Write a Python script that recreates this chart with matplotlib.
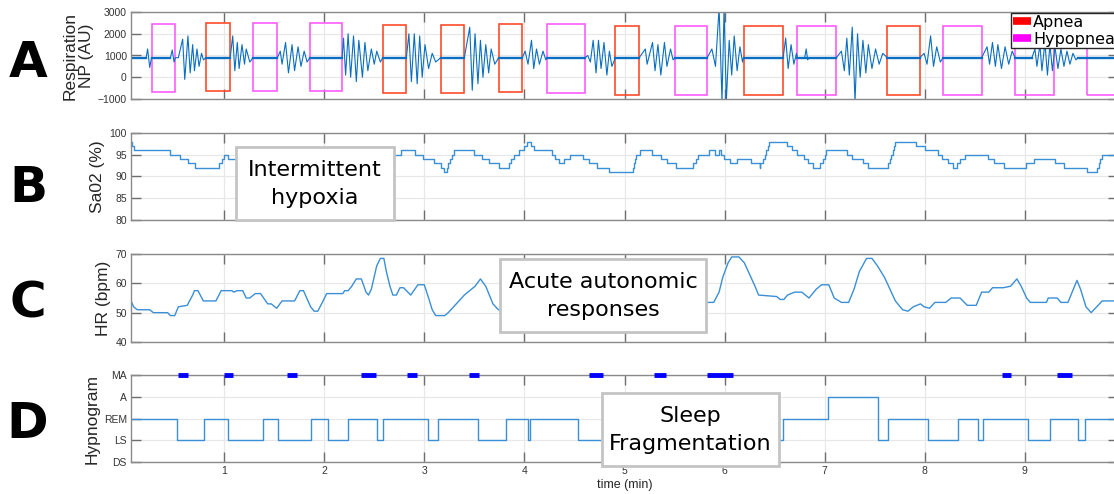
import matplotlib
matplotlib.use('Agg')
import matplotlib.pyplot as plt
from matplotlib.patches import Rectangle
from matplotlib.lines import Line2D

plt.rcParams['font.family'] = ['Liberation Sans', 'DejaVu Sans']

# ---- A: respiration (turning points), time in min
RESP = [(0.07, 900), (0.221, 900), (0.236, 1300), (0.257, 450), (0.275, 900),
        (0.464, 900), (0.482, 1250), (0.5, 700), (0.514, 900),
        (0.543, 900), (0.586, 1750), (0.607, -100), (0.639, 1900), (0.661, 200),
        (0.686, 1500), (0.704, 300), (0.729, 1300), (0.75, 500), (0.775, 1100),
        (0.793, 800), (0.821, 900),
        (1.061, 900), (1.086, 1900), (1.107, 300), (1.132, 1600), (1.15, 400),
        (1.179, 1500), (1.204, 600), (1.221, 1300), (1.257, 700), (1.289, 900),
        (1.532, 900), (1.561, 1200), (1.579, 600), (1.614, 1600), (1.643, 200),
        (1.679, 1500), (1.704, 300), (1.739, 1400), (1.768, 500), (1.8, 1200),
        (1.829, 700), (1.857, 900),
        (2.179, 900), (2.193, 1800), (2.214, 100), (2.239, 2000), (2.264, 0),
        (2.293, 1900), (2.321, -200), (2.346, 1700), (2.382, 0), (2.407, 1600),
        (2.436, 300), (2.471, 1300), (2.5, 600), (2.525, 1200), (2.561, 700),
        (2.586, 900),
        (2.821, 900), (2.846, 2000), (2.871, -200), (2.9, 2000), (2.929, -300),
        (2.954, 1900), (2.979, 0), (3.007, 1500), (3.043, 400), (3.079, 1100),
        (3.114, 700), (3.164, 900),
        (3.4, 900), (3.454, 2300), (3.479, -600), (3.507, 2000), (3.536, -300),
        (3.561, 1700), (3.586, 0), (3.614, 1500), (3.643, 200), (3.668, 1300),
        (3.704, 600), (3.743, 900),
        (3.979, 900), (4.007, 1200), (4.036, 600), (4.071, 1700), (4.093, 400),
        (4.121, 1300), (4.15, 600), (4.186, 1200), (4.214, 800), (4.229, 900),
        (4.605, 900), (4.633, 1000), (4.659, 700), (4.687, 1700), (4.716, 200),
        (4.74, 1700), (4.766, 400), (4.795, 1600), (4.824, 100), (4.849, 1200),
        (4.874, 500), (4.91, 900),
        (5.147, 900), (5.208, 1300), (5.226, 600), (5.28, 1600), (5.305, 300),
        (5.334, 1500), (5.363, 100), (5.399, 1600), (5.424, 500), (5.46, 1300),
        (5.485, 800), (5.507, 900),
        (5.826, 900), (5.873, 1300), (5.909, 500), (5.945, 3200), (5.974, -1100),
        (5.995, 3200), (6.017, -1100), (6.046, 1700), (6.071, 100), (6.096, 1900),
        (6.125, 300), (6.153, 1400), (6.179, 700), (6.189, 900),
        (6.585, 900), (6.61, 1800), (6.635, 400), (6.664, 1500), (6.692, 600),
        (6.718, 1100), (6.728, 900), (6.8, 900), (6.815, 1300), (6.83, 800),
        (6.843, 900),
        (7.116, 900), (7.167, 1200), (7.196, 300), (7.221, 1800), (7.246, 100),
        (7.275, 2300), (7.303, -1100), (7.328, 2000), (7.354, 0), (7.382, 1700),
        (7.411, 200), (7.436, 1500), (7.472, 400), (7.508, 1300), (7.544, 600),
        (7.58, 1100), (7.627, 900),
        (7.95, 900), (7.993, 1100), (8.022, 600), (8.058, 1900), (8.087, 500),
        (8.119, 1400), (8.155, 700), (8.184, 900),
        (8.568, 900), (8.622, 1400), (8.647, 600), (8.676, 1600), (8.705, 500),
        (8.73, 1500), (8.766, 400), (8.802, 1400), (8.838, 600), (8.873, 1200),
        (8.902, 900),
        (9.07, 900), (9.1, 1300), (9.12, 500), (9.15, 1500), (9.17, 300),
        (9.2, 1600), (9.225, 100), (9.25, 1500), (9.275, 300), (9.3, 1400),
        (9.33, 400), (9.36, 1300), (9.39, 500), (9.42, 1200), (9.45, 600),
        (9.48, 1100), (9.51, 800), (9.53, 900), (9.93, 900)]

# flat (noisy) baseline stretches
BASE_LEVEL = 900
BASE_SEGS = [(0.07, 0.221), (0.275, 0.464), (0.821, 1.061), (1.289, 1.532),
             (1.857, 2.179), (2.586, 2.821), (3.164, 3.4), (3.743, 3.979),
             (4.229, 4.605), (4.91, 5.147), (5.507, 5.826), (6.189, 6.585),
             (6.728, 7.116), (7.627, 7.95), (8.184, 8.568), (8.902, 9.07),
             (9.53, 9.93)]

APNEA = [(0.821, 1.061, -630, 2480), (2.586, 2.821, -720, 2420),
         (3.164, 3.4, -720, 2420), (3.743, 3.979, -690, 2430),
         (4.91, 5.147, -800, 2340), (6.189, 6.585, -800, 2340),
         (7.627, 7.95, -800, 2340)]
HYPOPNEA = [(0.275, 0.514, -660, 2450), (1.289, 1.532, -620, 2510),
            (1.857, 2.179, -620, 2510), (4.229, 4.605, -710, 2450),
            (5.507, 5.826, -800, 2340), (6.728, 7.116, -800, 2340),
            (8.184, 8.568, -800, 2340), (8.902, 9.287, -800, 2340),
            (9.617, 10.0, -800, 2340)]

# ---- B: SpO2 steps (start time, %)
SPO2_T = [0.07, 0.08, 0.096, 0.464, 0.561, 0.639, 0.714, 0.946, 0.979, 1.0, 1.036,
          2.686, 2.764, 2.907, 2.989, 3.096, 3.168, 3.2, 3.229, 3.24, 3.26, 3.275,
          3.293, 3.5, 3.579, 3.65, 3.746, 3.846, 3.87, 3.9, 3.95, 4.0, 4.03, 4.07,
          4.1, 4.275, 4.31, 4.346, 4.4, 4.454, 4.587, 4.65, 4.73, 4.849, 5.083,
          5.09, 5.1, 5.119, 5.155, 5.273, 5.363, 5.424, 5.514, 5.683, 5.71, 5.73,
          5.848, 5.902, 5.945, 5.967, 5.99, 6.053, 6.125, 6.268, 6.35, 6.355, 6.38,
          6.4, 6.415, 6.43, 6.44, 6.628, 6.67, 6.728, 6.79, 6.836, 6.879, 6.958,
          6.98, 7.0, 7.016, 7.224, 7.275, 7.382, 7.436, 7.634, 7.65, 7.665, 7.68,
          7.69, 7.706, 7.914, 8.004, 8.13, 8.17, 8.227, 8.28, 8.317, 8.35, 8.406,
          8.633, 8.694, 8.791, 9.01, 9.089, 9.297, 9.394, 9.621, 9.725, 9.74,
          9.755, 9.77, 9.93]
SPO2_V = [98, 97, 96, 95, 94, 93, 92, 93, 94, 95, 94,
          95, 96, 95, 94, 93, 92, 91, 92, 93, 94, 95,
          96, 95, 94, 93, 92, 93, 94, 95, 96, 97, 98, 97,
          96, 95, 94, 93, 94, 95, 94, 93, 92, 91, 92,
          93, 94, 95, 96, 95, 94, 93, 92, 93, 94, 95,
          96, 95, 96, 95, 94, 93, 94, 93, 92, 93, 94,
          95, 96, 97, 98, 97, 96, 95, 94, 93, 92, 93,
          94, 95, 96, 95, 94, 93, 92, 93, 94, 95, 96,
          97, 98, 97, 96, 95, 94, 93, 92, 93, 94, 95,
          94, 93, 92, 93, 94, 93, 92, 91, 92, 93,
          94, 95, 95]

# ---- C: heart rate (bpm)
HR = [(0.071, 54), (0.096, 52), (0.132, 51), (0.186, 51), (0.257, 51), (0.293, 50),
      (0.436, 50), (0.464, 49), (0.507, 49), (0.543, 52), (0.632, 52.5), (0.686, 56),
      (0.704, 57.5), (0.739, 57.5), (0.793, 54), (0.918, 54), (0.971, 57.5),
      (1.079, 57.5), (1.096, 57), (1.132, 57.5), (1.186, 57.5), (1.221, 55),
      (1.257, 55), (1.311, 56.5), (1.364, 56.5), (1.436, 53), (1.471, 53),
      (1.525, 51.5), (1.579, 54), (1.704, 54), (1.757, 57.5), (1.793, 57.5),
      (1.864, 52), (1.9, 50.5), (1.936, 50.5), (1.989, 54), (2.025, 56.5),
      (2.186, 56.5), (2.204, 57.5), (2.239, 57.5), (2.275, 59), (2.321, 61.5),
      (2.371, 61.5), (2.418, 57), (2.443, 56), (2.471, 58), (2.525, 66),
      (2.561, 68.5), (2.596, 68.5), (2.621, 64), (2.657, 59), (2.686, 56),
      (2.721, 56), (2.757, 58.5), (2.793, 58.5), (2.864, 56), (2.936, 59.5),
      (3.0, 59.5), (3.043, 55), (3.079, 51), (3.114, 49), (3.204, 49),
      (3.239, 50), (3.293, 52), (3.346, 54), (3.4, 56), (3.507, 59),
      (3.561, 61.5), (3.614, 59), (3.686, 53), (3.739, 51),
      (5.819, 53.5), (5.891, 53.5), (5.945, 57), (5.981, 62), (6.035, 67),
      (6.071, 69), (6.143, 69), (6.197, 67), (6.25, 63), (6.304, 59), (6.34, 56),
      (6.52, 55.5), (6.556, 54.5), (6.592, 54.5), (6.628, 56), (6.7, 57),
      (6.771, 57), (6.843, 55), (6.915, 58), (6.969, 59.5), (7.041, 59.5),
      (7.095, 55), (7.167, 53.5), (7.239, 53.5), (7.293, 58), (7.346, 64),
      (7.418, 68.5), (7.472, 68.5), (7.526, 66), (7.598, 62), (7.652, 58),
      (7.706, 54), (7.778, 51), (7.832, 50.5), (7.885, 52), (7.957, 53),
      (7.993, 52), (8.047, 51.5), (8.101, 53.5), (8.209, 53.5), (8.263, 55),
      (8.352, 55), (8.424, 52.5), (8.514, 52.5), (8.568, 57), (8.64, 57),
      (8.676, 58.5), (8.784, 58.5), (8.856, 59), (8.92, 61.5), (8.963, 59),
      (9.017, 55), (9.053, 53.5), (9.215, 53.5), (9.233, 55), (9.323, 55),
      (9.359, 53.5), (9.43, 53.5), (9.484, 58), (9.52, 61), (9.556, 58),
      (9.61, 52), (9.662, 50), (9.717, 52), (9.772, 54), (9.93, 54)]

# ---- D: hypnogram
STAGES = ['DS', 'LS', 'REM', 'A', 'MA']
HYP_T = [0.07, 0.532, 0.804, 1.036, 1.389, 1.536, 1.871, 2.036, 2.239, 2.532,
         2.586, 3.036, 3.139, 3.536, 3.821, 4.036, 4.057, 4.536, 6.585, 7.034,
         7.533, 7.634, 8.036, 8.334, 8.536, 8.586, 9.035, 9.251, 9.531, 9.599, 9.93]
HYP_S = ['REM', 'LS', 'REM', 'LS', 'REM', 'LS', 'REM', 'LS', 'REM', 'LS',
         'REM', 'LS', 'REM', 'LS', 'REM', 'LS', 'REM', 'LS', 'REM', 'A',
         'LS', 'REM', 'LS', 'REM', 'LS', 'REM', 'LS', 'REM', 'LS', 'REM', 'REM']
MICRO_AROUSALS = [(0.537, 0.637), (1.0, 1.087), (1.632, 1.732), (2.364, 2.514),
                  (2.829, 2.929), (3.443, 3.55), (4.641, 4.784), (5.291, 5.413),
                  (5.826, 6.082), (8.773, 8.863), (9.323, 9.467)]

W, H = 1114, 494
BLUE = '#0a6fc2'
LIGHT = '#3a8fd6'

fig = plt.figure(figsize=(W / 100, H / 100), dpi=100)


def px_rect(x0, y0, x1, y1):
    return [x0 / W, 1 - y1 / H, (x1 - x0) / W, (y1 - y0) / H]


panels = [(12, 99), (133, 220), (254, 342), (375, 462)]
axs = [fig.add_axes(px_rect(131, y0, 1118, y1)) for (y0, y1) in panels]

for i, ax in enumerate(axs):
    ax.set_xlim(0.07, 9.93)
    ax.set_xticks(range(1, 10))
    ax.grid(True, color='#e8e8e8', lw=0.9)
    ax.set_axisbelow(True)
    ax.tick_params(direction='in', length=7.5, width=1, color='#6e6e6e',
                   top=True, right=True, labelsize=7.5, labelcolor='#333333', pad=3)
    for s in ax.spines.values():
        s.set_color('#8a8a8a')
        s.set_linewidth(1)
    if i < 3:
        ax.tick_params(labelbottom=False)

# A
ax = axs[0]
ax.plot([p[0] for p in RESP], [p[1] for p in RESP], color=BLUE, lw=0.8)
for (a, b) in BASE_SEGS:
    ax.plot([a, b], [BASE_LEVEL, BASE_LEVEL], color=BLUE, lw=1.7)
for (a, b, lo, hi) in APNEA:
    ax.add_patch(Rectangle((a, lo), b - a, hi - lo, fill=False,
                           edgecolor='#ff4b2b', lw=1.2))
for (a, b, lo, hi) in HYPOPNEA:
    ax.add_patch(Rectangle((a, lo), b - a, hi - lo, fill=False,
                           edgecolor='#ff5cff', lw=1.2))
ax.set_ylim(-1000, 3000)
ax.set_yticks([-1000, 0, 1000, 2000, 3000])
ax.set_ylabel('Respiration\nNP (AU)', fontsize=12.5, color='#262626', labelpad=3,
              linespacing=1.05)
handles = [Line2D([], [], color='#ff0000', lw=5.5, solid_capstyle='butt'),
           Line2D([], [], color='#ff00ff', lw=5.5, solid_capstyle='butt')]
leg = fig.legend(handles, ['Apnea', 'Hypopnea'], loc='upper left',
                 bbox_to_anchor=(1011 / W, 1 - 13 / H), frameon=True, fancybox=False,
                 prop={'family': 'DejaVu Sans', 'size': 11.5}, handlelength=1.15,
                 handletextpad=0.12, borderpad=0.12, labelspacing=0.1,
                 borderaxespad=0)
leg.get_frame().set_edgecolor('#262626')
leg.get_frame().set_linewidth(1)
leg.get_frame().set_alpha(1)

# B
ax = axs[1]
ax.step(SPO2_T, SPO2_V, where='post', color=LIGHT, lw=1)
ax.set_ylim(80, 100)
ax.set_yticks([80, 85, 90, 95, 100])
ax.set_ylabel('Sa02 (%)', fontsize=12.5, color='#262626', labelpad=3)

# C
ax = axs[2]
ax.plot([p[0] for p in HR], [p[1] for p in HR], color=LIGHT, lw=1)
ax.set_ylim(40, 70)
ax.set_yticks([40, 50, 60, 70])
ax.set_ylabel('HR (bpm)', fontsize=12.5, color='#262626', labelpad=3)

# D
ax = axs[3]
ax.step(HYP_T, [STAGES.index(s) for s in HYP_S], where='post', color=LIGHT, lw=1)
for (a, b) in MICRO_AROUSALS:
    ax.plot([a, b], [STAGES.index('MA')] * 2, color='#0000ff', lw=3.5,
            solid_capstyle='butt', clip_on=False, zorder=5)
ax.set_ylim(0, 4)
ax.set_yticks(range(5))
ax.set_yticklabels(STAGES)
ax.set_ylabel('Hypnogram', fontsize=12.5, color='#262626', labelpad=3)
ax.set_xlabel('time (min)', fontsize=9, color='#262626', labelpad=2)

# panel letters
for letter, (cx, base) in zip('ABCD', [(28, 77), (28, 202), (28, 318), (27, 438)]):
    fig.text(cx / W, 1 - base / H, letter, ha='center', va='baseline',
             fontsize=36, fontweight='bold', family='DejaVu Sans')

# annotation boxes
notes = [((236, 147, 394, 220), 'Intermittent\nhypoxia'),
         ((500, 259, 706, 332), 'Acute autonomic\nresponses'),
         ((602, 393, 779, 466), 'Sleep\nFragmentation')]
for (x0, y0, x1, y1), txt in notes:
    fig.add_artist(Rectangle((x0 / W, 1 - y1 / H), (x1 - x0) / W, (y1 - y0) / H,
                             transform=fig.transFigure, facecolor='white',
                             edgecolor='#c4c4c4', lw=2, zorder=5))
    fig.text((x0 + x1) / 2 / W, 1 - (y0 + y1) / 2 / H, txt, ha='center',
             va='center', fontsize=16, family='DejaVu Sans', linespacing=1.5,
             zorder=6)

fig.savefig('out.png', dpi=100)
